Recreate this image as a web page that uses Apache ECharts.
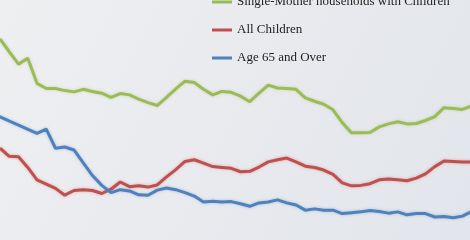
<!DOCTYPE html>
<html><head><meta charset="utf-8">
<script src="https://cdn.jsdelivr.net/npm/echarts@6/dist/echarts.min.js"></script>
<style>html,body{margin:0;padding:0;background:#e8eaee}#c{width:470px;height:240px}</style>
</head><body><div id="c"></div>
<script>
const seriesNames = ['Single-Mother households with Children', 'All Children', 'Age 65 and Over'];
const seriesColors = ['#9bbb59', '#c0504d', '#4f81bd'];

const years = [1962,1963,1964,1965,1966,1967,1968,1969,1970,1971,1972,1973,1974,1975,1976,1977,1978,1979,1980,1981,1982,1983,1984,1985,1986,1987,1988,1989,1990,1991,1992,1993,1994,1995,1996,1997,1998,1999,2000,2001,2002,2003,2004,2005,2006,2007,2008,2009,2010,2011,2012,2013];

const singleMother = [50.6,47.6,44.7,46.1,40.2,39.0,39.0,38.5,38.2,38.8,38.3,37.9,36.9,37.8,37.5,36.5,35.7,35.0,36.9,38.9,40.7,40.4,38.8,37.5,38.3,38.1,37.2,35.9,37.9,39.8,39.1,39.0,38.8,36.8,36.0,35.3,34.0,31.0,28.6,28.6,28.7,30.0,30.7,31.2,30.7,30.8,31.5,32.4,34.5,34.3,34.1,34.9];

const allChildren = [25.0,23.1,23.0,20.5,17.6,16.6,15.6,14.0,15.1,15.3,15.1,14.4,15.4,17.1,16.0,16.2,15.9,16.4,18.3,20.0,21.9,22.3,21.5,20.7,20.5,20.3,19.5,19.6,20.6,21.8,22.3,22.7,21.8,20.8,20.5,19.9,18.9,16.9,16.2,16.3,16.7,17.6,17.8,17.6,17.4,18.0,19.0,20.7,22.0,21.9,21.8,21.8];

const age65Years = [1959,1966,1967,1968,1969,1970,1971,1972,1973,1974,1975,1976,1977,1978,1979,1980,1981,1982,1983,1984,1985,1986,1987,1988,1989,1990,1991,1992,1993,1994,1995,1996,1997,1998,1999,2000,2001,2002,2003,2004,2005,2006,2007,2008,2009,2010,2011,2012,2013];
const age65 = [35.2,28.5,29.5,25.0,25.3,24.6,21.6,18.6,16.3,14.6,15.3,15.0,14.1,14.0,15.2,15.7,15.3,14.6,13.8,12.4,12.6,12.4,12.5,12.0,11.4,12.2,12.4,12.9,12.2,11.7,10.5,10.8,10.5,10.5,9.7,9.9,10.1,10.4,10.2,9.8,10.1,9.4,9.7,9.7,8.9,9.0,8.7,9.1,10.2];

const pair = (xs, vs) => xs.map((x, i) => [x, vs[i]]);
const seriesData = [pair(years, singleMother), pair(years, allChildren), pair(age65Years, age65)];

const chart = echarts.init(document.getElementById('c'), null, {renderer: 'canvas'});
chart.setOption({
  animation: false,
  backgroundColor: {
    type: 'linear', x: 0, y: 0, x2: 1, y2: 1,
    colorStops: [{offset: 0, color: '#eeeff1'}, {offset: 1, color: '#e2e5eb'}]
  },
  grid: {left: 0, right: 0, top: 0, bottom: 0},
  xAxis: {type: 'value', min: 1962, max: 2012.81, show: false},
  yAxis: {type: 'value', min: 3.51, max: 59.72, show: false},
  legend: {
    orient: 'vertical', left: 207, top: -10,
    itemWidth: 20, itemHeight: 14, itemGap: 14,
    icon: 'path://M0,0 L20,0 L20,3 L0,3 Z',
    data: seriesNames,
    textStyle: {fontFamily: 'Liberation Serif', fontSize: 13, color: '#222', lineHeight: 14}
  },
  series: seriesNames.map((name, k) => ({
    name: name,
    type: 'line',
    symbol: 'none',
    data: seriesData[k],
    color: seriesColors[k],
    lineStyle: {width: 3, color: seriesColors[k], shadowColor: seriesColors[k] + '66', shadowBlur: 3}
  }))
});
</script></body></html>
